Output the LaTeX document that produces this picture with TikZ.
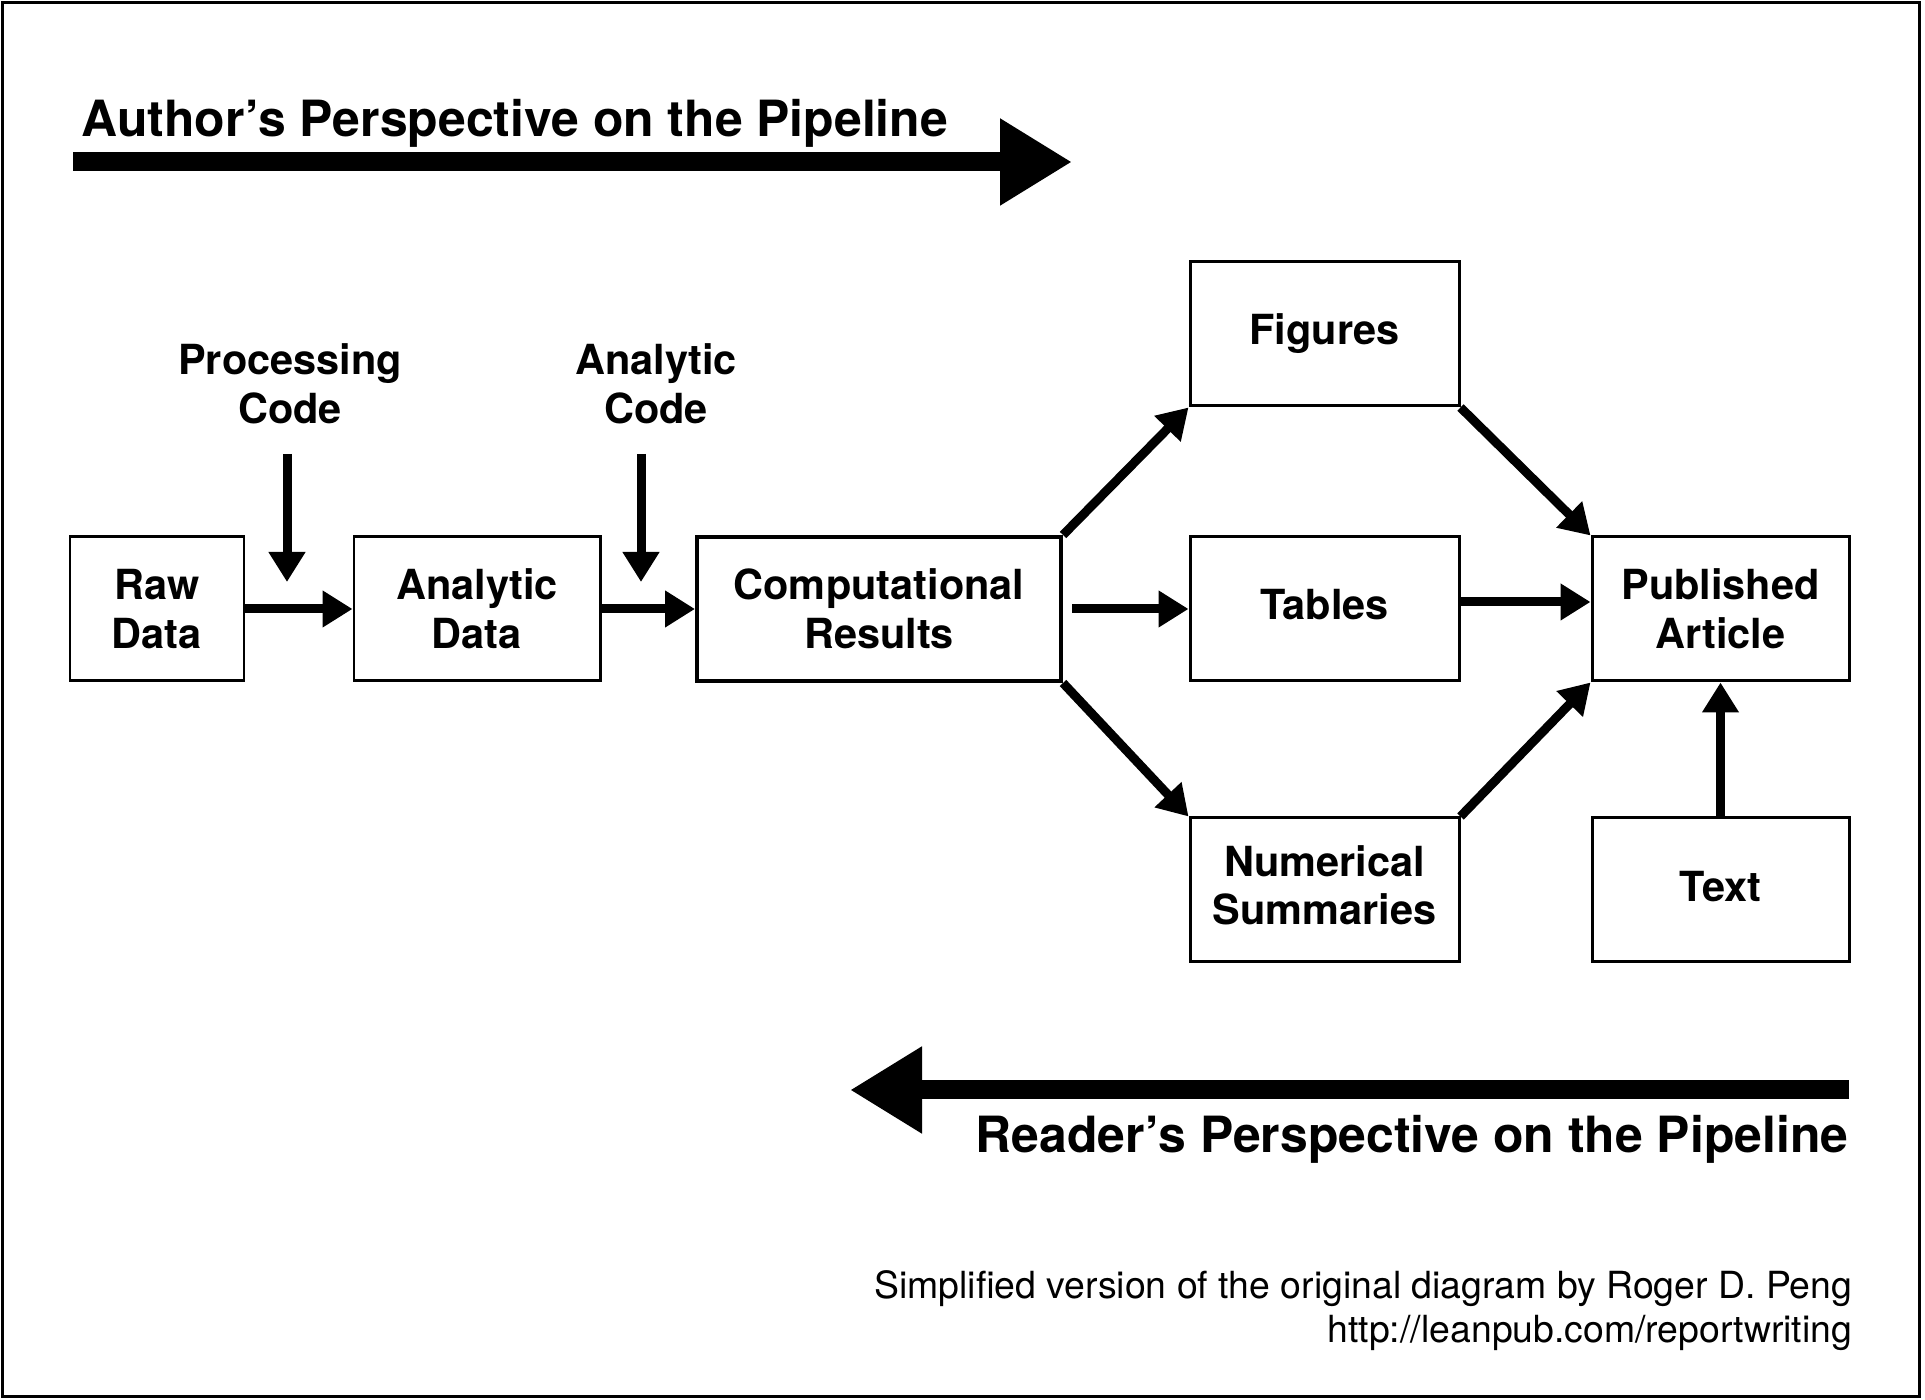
\documentclass[tikz,border=0pt]{standalone}
\usepackage{fontspec}
\setmainfont{TeX Gyre Heros}
\usetikzlibrary{arrows.meta}

\begin{document}
\begin{tikzpicture}[
  box/.style={draw, line width=0.85pt, minimum width=#1, minimum height=1.44cm, inner sep=0pt, align=center, font=\bfseries\fontsize{11.8}{13.9}\selectfont},
  codelabel/.style={inner sep=0pt, align=center, font=\bfseries\fontsize{11.8}{13.9}\selectfont},
  title/.style={inner sep=0pt, font=\bfseries\fontsize{14.2}{17}\selectfont},
  credit/.style={inner sep=0pt, align=right, font=\fontsize{10.64}{12.4}\selectfont},
  flow/.style={line width=2.56pt, -{Triangle[length=0.30cm,width=0.35cm]}},
  bigflow/.style={line width=0.19cm, -{Triangle[length=0.72cm,width=0.82cm]}}]
\useasboundingbox (0,0) rectangle (19.25,14);
\draw[line width=1pt] (0.025,0.035) rectangle (19.195,13.975);

\node[title, anchor=base west] (authortitle) at (0.81,12.63) {Author's Perspective on the Pipeline};
\coordinate (authorfrom) at (0.73,12.38);
\coordinate (authorto) at (10.72,12.38);
\draw[bigflow] (authorfrom) -- (authorto);

\node[box=1.74cm] (raw) at (1.57,7.91) {Raw\\Data};
\node[box=2.46cm] (anadata) at (4.77,7.91) {Analytic\\Data};
\node[box=3.64cm, line width=1.14pt] (results) at (8.79,7.91) {Computational\\Results};
\node[box=2.69cm] (figures) at (13.245,10.66) {Figures};
\node[box=2.69cm, text depth=0.09cm] (tables) at (13.245,7.91) {Tables};
\node[box=2.69cm, text depth=0.1cm] (numsum) at (13.245,5.10) {Numerical\\Summaries};
\node[box=2.57cm] (article) at (17.205,7.91) {Published\\Article};
\node[box=2.57cm, text depth=0.07cm] (text) at (17.205,5.10) {Text};

\node[codelabel] (proccode) at (2.90,10.16) {Processing\\Code};
\node[codelabel] (anacode) at (6.56,10.16) {Analytic\\Code};
\coordinate (procfrom) at (2.87,9.46);
\coordinate (procto) at (2.87,8.18);
\coordinate (anafrom) at (6.41,9.46);
\coordinate (anato) at (6.41,8.18);
\draw[flow] (procfrom) -- (procto);
\draw[flow] (anafrom) -- (anato);

\draw[flow] (raw) -- (anadata);
\draw[flow] (anadata) -- (results);
\draw[flow, shorten <=0.09cm] (results) -- (tables);
\draw[flow] (results.north east) -- (figures.south west);
\draw[flow] (results.south east) -- (numsum.north west);
\draw[flow] ([yshift=0.07cm]tables.east) -- ([yshift=0.07cm]article.west);
\draw[flow] (figures.south east) -- (article.north west);
\draw[flow] (numsum.north east) -- (article.south west);
\draw[flow] (text) -- (article);

\coordinate (readerfrom) at (18.49,3.10);
\coordinate (readerto) at (8.50,3.10);
\draw[bigflow] (readerfrom) -- (readerto);
\node[title, anchor=base east] (readertitle) at (18.49,2.47) {Reader's Perspective on the Pipeline};

\node[credit, anchor=south east] (credit) at (18.53,0.49) {Simplified version of the original diagram by Roger D. Peng\\http://leanpub.com/reportwriting};
\end{tikzpicture}
\end{document}
